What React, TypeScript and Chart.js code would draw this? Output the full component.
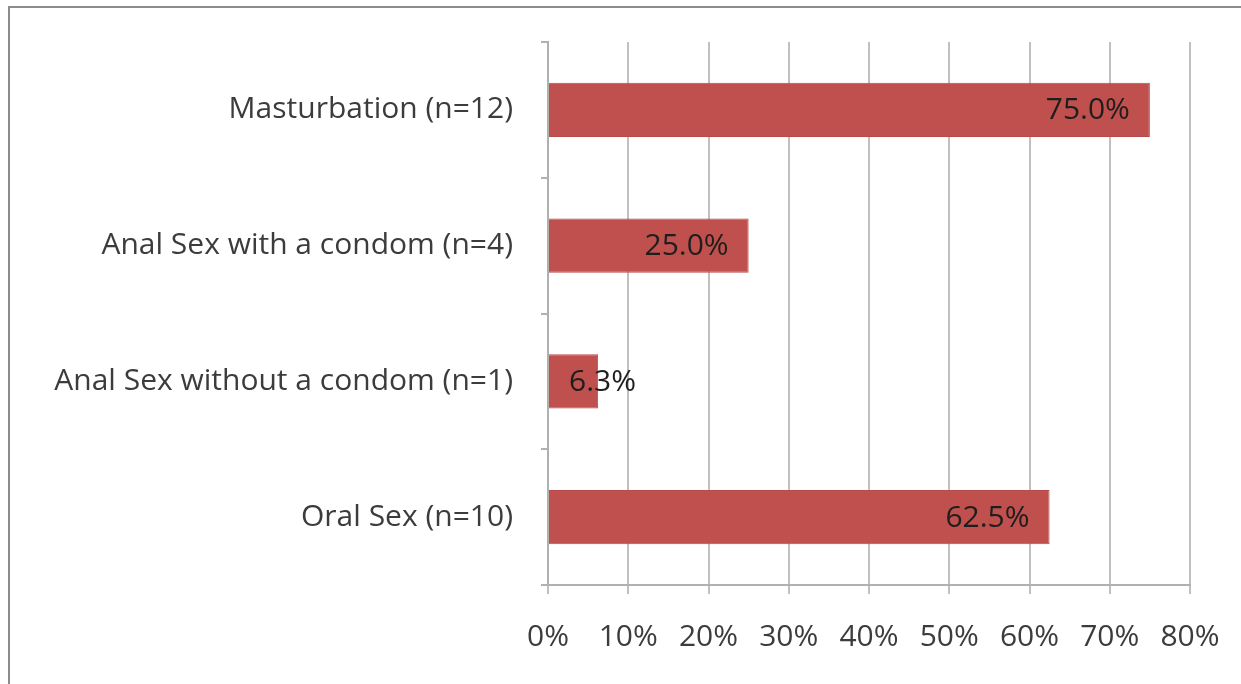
import React, { useEffect, useRef } from "react";
import { Chart, registerables } from "chart.js";

Chart.register(...registerables);

const categories = [
  "Masturbation (n=12)",
  "Anal Sex with a condom (n=4)",
  "Anal Sex without a condom (n=1)",
  "Oral Sex (n=10)",
];
const percentValues = [75.0, 25.0, 6.25, 62.5];
const xTickMax = 80;
const xTickStep = 10;

const FONT = "'Open Sans', Lato, sans-serif";
const FONT_SIZE = 30;

const framePlugin = {
  id: "frame",
  beforeDraw(chart: any) {
    const ctx = chart.ctx;
    ctx.save();
    ctx.fillStyle = "#ffffff";
    ctx.fillRect(0, 0, chart.width, chart.height);
    ctx.strokeStyle = "#8c8c8c";
    ctx.lineWidth = 2;
    ctx.strokeRect(9, 7, chart.width + 20, chart.height + 20);
    ctx.restore();
  },
};

const valueLabelPlugin = {
  id: "valueLabels",
  afterDatasetsDraw(chart: any) {
    const ctx = chart.ctx;
    const meta = chart.getDatasetMeta(0);
    ctx.save();
    ctx.font = `${FONT_SIZE}px ${FONT}`;
    ctx.fillStyle = "#1e1e1e";
    ctx.textBaseline = "middle";
    meta.data.forEach((bar: any, i: number) => {
      const text = percentValues[i].toFixed(1) + "%";
      const w = ctx.measureText(text).width;
      const left = bar.base;
      const right = bar.x;
      if (w + 30 < right - left) {
        ctx.textAlign = "right";
        ctx.fillText(text, right - 20, bar.y + 1);
      } else {
        ctx.textAlign = "left";
        ctx.fillText(text, left + 20, bar.y + 1);
      }
    });
    ctx.restore();
  },
};

export default function App() {
  const canvasRef = useRef<HTMLCanvasElement | null>(null);

  useEffect(() => {
    if (!canvasRef.current) return;
    const chart = new Chart(canvasRef.current, {
      type: "bar",
      data: {
        labels: categories,
        datasets: [
          {
            data: percentValues,
            backgroundColor: "#C0504D",
            borderColor: "#B84A47",
            borderWidth: 1,
            barPercentage: 0.4,
            categoryPercentage: 1,
          },
        ],
      },
      options: {
        indexAxis: "y",
        animation: false,
        responsive: false,
        maintainAspectRatio: false,
        layout: { padding: { left: 0, right: 51, top: 42, bottom: 0 } },
        plugins: {
          legend: { display: false },
          tooltip: { enabled: false },
        },
        scales: {
          x: {
            min: 0,
            max: xTickMax,
            afterFit(scale: any) {
              scale.height = 99;
              scale.paddingLeft = 0;
              scale.paddingRight = 0;
            },
            ticks: {
              stepSize: xTickStep,
              callback: (v: any) => `${v}%`,
              font: { family: FONT, size: FONT_SIZE },
              color: "#3c3c3c",
              padding: 25,
              maxRotation: 0,
            },
            grid: {
              color: "#c0c0c0",
              lineWidth: 2,
              tickLength: 9,
            },
            border: { color: "#b0b0b0", width: 2 },
          },
          y: {
            afterFit(scale: any) {
              scale.width = 548;
              scale.paddingTop = 0;
              scale.paddingBottom = 0;
            },
            ticks: {
              font: { family: FONT, size: FONT_SIZE },
              color: "#3c3c3c",
              padding: 28,
            },
            grid: {
              offset: true,
              drawOnChartArea: false,
              color: "#b0b0b0",
              lineWidth: 2,
              tickLength: 7,
            },
            border: { color: "#b0b0b0", width: 2 },
          },
        },
      },
      plugins: [framePlugin, valueLabelPlugin],
    });
    return () => chart.destroy();
  }, []);

  return (
    <div style={{ position: "absolute", left: 0, top: 0, width: 1241, height: 684, background: "#fff" }}>
      <canvas ref={canvasRef} width={1241} height={684} style={{ width: 1241, height: 684 }} />
    </div>
  );
}
